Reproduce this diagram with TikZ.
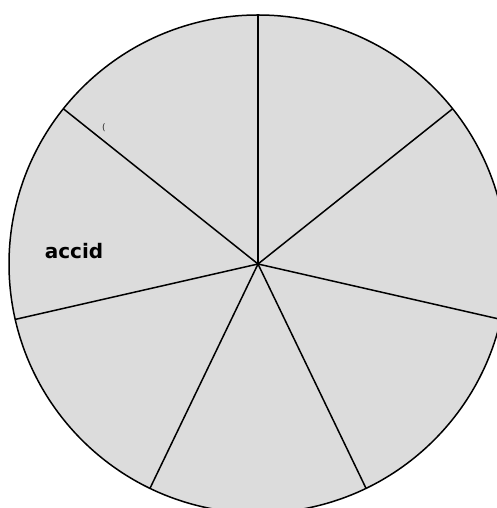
\documentclass[tikz,border=0pt]{standalone}
\usepackage{fontspec}
\usetikzlibrary{calc}
\newfontfamily\labelfont{DejaVu Sans}
\definecolor{wedgefill}{HTML}{DCDCDC}
\begin{document}
\begin{tikzpicture}[x=1pt,y=1pt,
  rim/.style={draw=black,line width=1.5pt,fill=wedgefill},
  spoke/.style={draw=black,line width=1.5pt},
  lbl/.style={font=\labelfont\bfseries\fontsize{20}{22}\selectfont,inner sep=0pt}]
\useasboundingbox (0,0) rectangle (497,508);
\coordinate (c) at (258,244);
\def\R{249}
\draw[rim] (c) circle (\R);
\foreach \i in {0,...,6}{
  \coordinate (p\i) at ($(c)+({90-\i*360/7}:\R)$);
  \draw[spoke] (c) -- (p\i);
}
\node[lbl] (accid) at (74,257) {accid};
\node[font=\labelfont\fontsize{9}{10}\selectfont,text=black!85,inner sep=0pt] (mark) at (104,380) {(};
\end{tikzpicture}
\end{document}
